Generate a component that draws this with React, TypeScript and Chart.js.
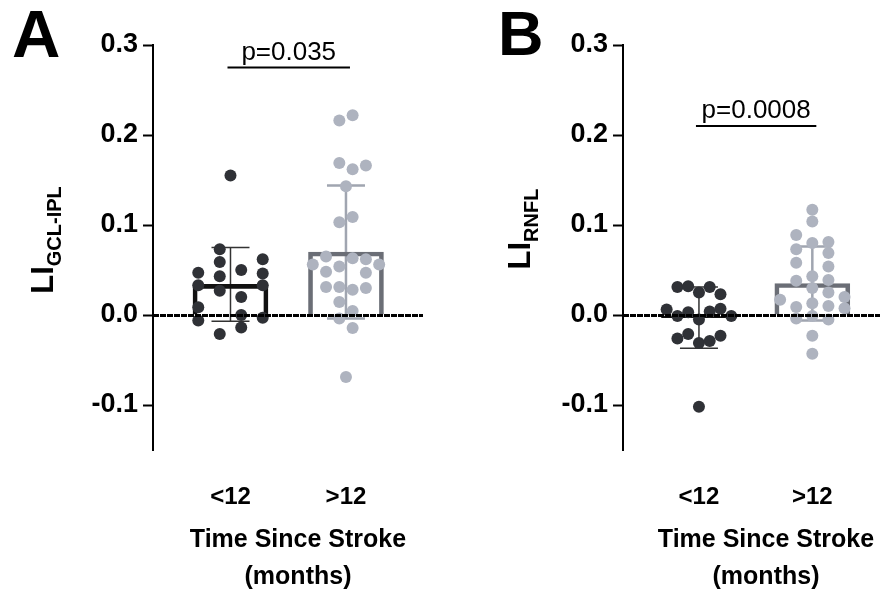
import React, { useEffect, useRef } from 'react';
import { Chart, registerables } from 'chart.js';

Chart.register(...registerables);

const FONT = '"Liberation Sans", Arial, Helvetica, sans-serif';

// ---------- shared data ----------
const categories = ['<12', '>12'];
const yTicks = [-0.1, 0.0, 0.1, 0.2, 0.3];
const xTitleLines = ['Time Since Stroke', '(months)'];

// ---------- Panel A: LI GCL-IPL ----------
const aLt12Values = [0.155, 0.073, 0.059, 0.047, 0.043, 0.050, 0.062, 0.046, 0.033, 0.033, 0.027, 0.020, 0.0085, 0.000, -0.006, -0.003, -0.014, -0.021];
const aLt12Slots = [0, -0.5, -0.5, -1.5, -0.5, 0.5, 1.5, 1.5, -1.5, 1.5, -0.5, 0.5, -1.5, 0.5, -1.5, 1.5, 0.5, -0.5];
const aGt12Values = [0.216, 0.222, 0.169, 0.162, 0.166, 0.143, 0.109, 0.103, 0.065, 0.063, 0.062, 0.056, 0.054, 0.056, 0.048, 0.047, 0.031, 0.031, 0.028, 0.030, 0.0144, 0.0044, -0.004, -0.0144, -0.069];
const aGt12Slots = [-0.5, 0.5, -0.5, 0.5, 1.5, 0, 0.5, -0.5, -1.5, 0.5, 1.5, -2.5, -0.5, 2.5, -1.5, 1.5, -1.5, -0.5, 0.5, 1.5, -0.5, 0.5, -0.5, 0.5, 0];
const aMeans = [0.034, 0.070];
const aSDs = [0.041, 0.074];
const aPText = 'p=0.035';
const aBracketY = 0.275;

// ---------- Panel B: LI RNFL ----------
const bLt12Values = [0.031, 0.032, 0.025, 0.031, 0.023, 0.006, -0.001, 0.003, -0.005, 0.004, 0.007, -0.001, -0.026, -0.021, -0.031, -0.029, -0.023, -0.102];
const bLt12Slots = [-2, -1, 0, 1, 2, -3, -2, -1, 0, 1, 2, 3, -2, -1, 0, 1, 2, 0];
const bGt12Values = [0.117, 0.104, 0.089, 0.073, 0.080, 0.081, 0.069, 0.058, 0.054, 0.043, 0.038, 0.039, 0.030, 0.025, 0.017, 0.013, 0.020, 0.009, 0.010, 0.0074, -0.004, -0.001, -0.005, -0.023, -0.043];
const bGt12Slots = [0, 0, -1, -1, 0, 1, 1, -1, 1, 0, -1, 1, 0, 1, -2, 0, 2, -1, 1, 2, -1, 0, 1, 0, 0];
const bMeans = [-0.003, 0.035];
const bSDs = [0.034, 0.041];
const bPText = 'p=0.0008';
const bBracketY = 0.21;

// ---------- styles ----------
const DARK_DOT = '#2f3136';
const LIGHT_DOT = '#aeb3bf';
const barBorderColors = ['#111111', '#6b6e76'];
const errColors = ['#333333', '#a0a5b0'];
const errWidths = [1.5, 2.5];

type PanelCfg = {
  left: number;
  width: number;
  yAxisWidth: number;
  padRight: number;
  xMin: number;
  xMax: number;
  letter: string;
  letterX: number;
  letterY: number;
  letterSize: number;
  yMain: string;
  ySub: string;
  yTitleX: number;
  yTitleY: number;
  xTitleOffset: number;
  lt12Values: number[];
  lt12Slots: number[];
  lt12Step: number;
  gt12Values: number[];
  gt12Slots: number[];
  gt12Step: number;
  means: number[];
  sds: number[];
  pText: string;
  bracketY: number;
};

const panels: PanelCfg[] = [
  {
    left: 0, width: 443, yAxisWidth: 153, padRight: 20, xMin: 0.329, xMax: 2.667,
    letter: 'A', letterX: 12, letterY: 57, letterSize: 67,
    yMain: 'LI', ySub: 'GCL-IPL', yTitleX: 53, yTitleY: 240, xTitleOffset: 145,
    lt12Values: aLt12Values, lt12Slots: aLt12Slots, lt12Step: 0.186,
    gt12Values: aGt12Values, gt12Slots: aGt12Slots, gt12Step: 0.115,
    means: aMeans, sds: aSDs, pText: aPText, bracketY: aBracketY,
  },
  {
    left: 443, width: 443, yAxisWidth: 180, padRight: 0, xMin: 0.33, xMax: 2.597,
    letter: 'B', letterX: 55, letterY: 55, letterSize: 63,
    yMain: 'LI', ySub: 'RNFL', yTitleX: 87, yTitleY: 229, xTitleOffset: 143,
    lt12Values: bLt12Values, lt12Slots: bLt12Slots, lt12Step: 0.095,
    gt12Values: bGt12Values, gt12Slots: bGt12Slots, gt12Step: 0.142,
    means: bMeans, sds: bSDs, pText: bPText, bracketY: bBracketY,
  },
];

function makePlugin(cfg: PanelCfg) {
  return {
    id: 'annot' + cfg.letter,
    beforeDatasetsDraw(chart: any) {
      const { ctx } = chart;
      const x = chart.scales.x;
      const y = chart.scales.y;
      cfg.means.forEach((m, i) => {
        const cx = x.getPixelForValue(i + 1);
        const top = y.getPixelForValue(m + cfg.sds[i]);
        const bot = y.getPixelForValue(m - cfg.sds[i]);
        ctx.save();
        ctx.strokeStyle = errColors[i];
        ctx.lineWidth = errWidths[i];
        ctx.beginPath();
        ctx.moveTo(cx, top);
        ctx.lineTo(cx, bot);
        ctx.moveTo(cx - 19, top);
        ctx.lineTo(cx + 19, top);
        ctx.moveTo(cx - 19, bot);
        ctx.lineTo(cx + 19, bot);
        ctx.stroke();
        ctx.restore();
      });
    },
    afterDatasetsDraw(chart: any) {
      const { ctx, chartArea } = chart;
      const y = chart.scales.y;
      const y0 = Math.round(y.getPixelForValue(0)) + 0.5;
      ctx.save();
      ctx.strokeStyle = '#000';
      ctx.lineWidth = 3;
      ctx.setLineDash([6, 1]);
      ctx.beginPath();
      ctx.moveTo(chartArea.left, y0);
      ctx.lineTo(chartArea.right, y0);
      ctx.stroke();
      ctx.restore();
    },
    afterDraw(chart: any) {
      const { ctx, chartArea } = chart;
      const x = chart.scales.x;
      const y = chart.scales.y;
      ctx.save();
      // panel letter
      ctx.fillStyle = '#000';
      ctx.textBaseline = 'alphabetic';
      ctx.textAlign = 'left';
      ctx.font = `bold ${cfg.letterSize}px ${FONT}`;
      ctx.fillText(cfg.letter, cfg.letterX, cfg.letterY);

      // p-value bracket
      const x1 = x.getPixelForValue(1) - 3;
      const x2 = x.getPixelForValue(2) + 4;
      const by = y.getPixelForValue(cfg.bracketY);
      ctx.strokeStyle = '#000';
      ctx.lineWidth = 2;
      ctx.beginPath();
      ctx.moveTo(x1, by);
      ctx.lineTo(x2, by);
      ctx.stroke();
      ctx.font = `26px ${FONT}`;
      ctx.textAlign = 'center';
      ctx.fillText(cfg.pText, (x1 + x2) / 2, by - 8);

      // x title
      ctx.font = `bold 25px ${FONT}`;
      ctx.textBaseline = 'middle';
      const tx = chartArea.left + cfg.xTitleOffset;
      ctx.fillText(xTitleLines[0], tx, 540);
      ctx.fillText(xTitleLines[1], tx, 577);

      // y title (rotated, with subscript)
      ctx.translate(cfg.yTitleX, cfg.yTitleY);
      ctx.rotate(-Math.PI / 2);
      ctx.textBaseline = 'alphabetic';
      ctx.textAlign = 'left';
      ctx.font = `bold 31px ${FONT}`;
      const wMain = ctx.measureText(cfg.yMain).width;
      ctx.font = `bold 20px ${FONT}`;
      const wSub = ctx.measureText(cfg.ySub).width;
      const start = -(wMain + wSub) / 2;
      ctx.font = `bold 31px ${FONT}`;
      ctx.fillText(cfg.yMain, start, 0);
      ctx.font = `bold 20px ${FONT}`;
      ctx.fillText(cfg.ySub, start + wMain, 8);
      ctx.restore();
    },
  };
}

function Panel({ cfg }: { cfg: PanelCfg }) {
  const ref = useRef<HTMLCanvasElement | null>(null);
  useEffect(() => {
    if (!ref.current) return;
    const lt12 = cfg.lt12Values.map((v, i) => ({ x: 1 + cfg.lt12Slots[i] * cfg.lt12Step, y: v }));
    const gt12 = cfg.gt12Values.map((v, i) => ({ x: 2 + cfg.gt12Slots[i] * cfg.gt12Step, y: v }));
    const chart = new Chart(ref.current, {
      type: 'scatter',
      data: {
        datasets: [
          {
            type: 'bar',
            data: cfg.means.map((m, i) => ({ x: i + 1, y: m })),
            backgroundColor: 'rgba(255,255,255,0)',
            borderColor: barBorderColors,
            borderWidth: 4,
            borderSkipped: 'start',
            barThickness: 75,
            order: 3,
          } as any,
          {
            type: 'scatter',
            data: lt12,
            backgroundColor: DARK_DOT,
            borderWidth: 0,
            pointRadius: 6,
            order: 1,
          },
          {
            type: 'scatter',
            data: gt12,
            backgroundColor: LIGHT_DOT,
            borderWidth: 0,
            pointRadius: 6,
            order: 2,
          },
        ],
      },
      options: {
        animation: false,
        responsive: false,
        devicePixelRatio: 1,
        layout: { padding: { top: 45, right: cfg.padRight, left: 0, bottom: 0 } },
        plugins: { legend: { display: false }, tooltip: { enabled: false } },
        scales: {
          x: {
            type: 'linear',
            min: cfg.xMin,
            max: cfg.xMax,
            offset: false,
            grid: { display: false, drawTicks: false },
            border: { display: false },
            afterBuildTicks: (s: any) => {
              s.ticks = categories.map((_, i) => ({ value: i + 1 }));
            },
            afterFit: (s: any) => {
              s.height = 140;
            },
            ticks: {
              autoSkip: false,
              maxRotation: 0,
              minRotation: 0,
              padding: 33,
              color: '#000',
              font: { family: FONT, size: 24, weight: 'bold' },
              callback: (v: any) => categories[Math.round(Number(v)) - 1] ?? '',
            },
          },
          y: {
            type: 'linear',
            min: -0.15,
            max: 0.3,
            grid: {
              display: true,
              drawOnChartArea: false,
              drawTicks: true,
              tickLength: 10,
              tickWidth: 2,
              tickColor: '#000',
              color: '#000',
            },
            border: { display: true, color: '#000', width: 2 },
            afterBuildTicks: (s: any) => {
              s.ticks = yTicks.map((v) => ({ value: v }));
            },
            afterFit: (s: any) => {
              s.width = cfg.yAxisWidth;
            },
            ticks: {
              autoSkip: false,
              padding: 5,
              color: '#000',
              font: { family: FONT, size: 27, weight: 'bold' },
              callback: (v: any) => Number(v).toFixed(1),
            },
          },
        },
      } as any,
      plugins: [makePlugin(cfg)],
    });
    return () => chart.destroy();
  }, [cfg]);
  return (
    <canvas
      ref={ref}
      width={cfg.width}
      height={590}
      style={{ position: 'absolute', left: cfg.left, top: 0, width: cfg.width, height: 590, display: 'block' }}
    />
  );
}

export default function App() {
  return (
    <div
      style={{
        position: 'fixed',
        left: 0,
        top: 0,
        width: 886,
        height: 590,
        overflow: 'hidden',
        background: '#fff',
      }}
    >
      {panels.map((p) => (
        <Panel key={p.letter} cfg={p} />
      ))}
    </div>
  );
}
